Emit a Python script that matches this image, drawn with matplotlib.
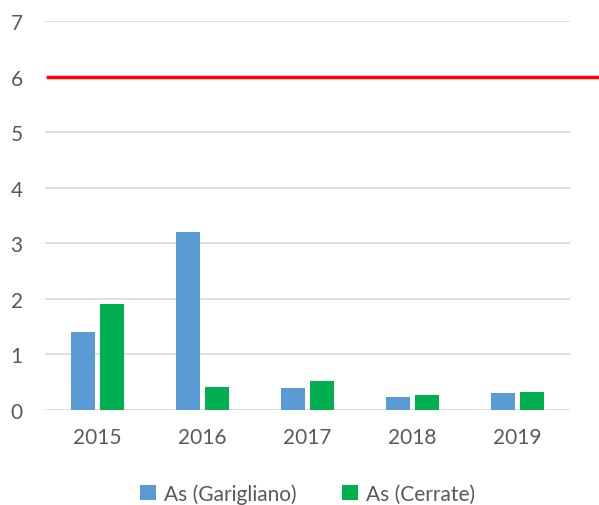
import numpy as np
import matplotlib
matplotlib.use('Agg')
import matplotlib.pyplot as plt

years = ['2015', '2016', '2017', '2018', '2019']
as_garigliano = [1.40, 3.20, 0.40, 0.23, 0.30]
as_cerrate = [1.91, 0.42, 0.52, 0.27, 0.32]
limit = 6

plt.rcParams['font.family'] = ['Lato', 'DejaVu Sans']

fig = plt.figure(figsize=(5.99, 5.06), dpi=100)
ax = fig.add_axes([45 / 599, 1 - 411 / 506, 525 / 599, 389 / 506])

x = np.arange(len(years))
w = 0.23
gap = 0.05
ax.bar(x - (w + gap) / 2, as_garigliano, w, color='#5B9BD5', label='As (Garigliano)', zorder=3)
ax.bar(x + (w + gap) / 2, as_cerrate, w, color='#00B050', label='As (Cerrate)', zorder=3)

# limit line runs past the plot area to the image edge
ax.plot([0.006, 1.06], [limit, limit], transform=ax.get_yaxis_transform(),
        color='#FF0000', lw=2.5, clip_on=False, zorder=4)

ax.set_xlim(-0.5, 4.5)
ax.set_ylim(0, 7)
ax.set_yticks(range(8))
ax.set_xticks(x)
ax.set_xticklabels(years)
ax.yaxis.grid(True, color='#D9D9D9', lw=1.2, zorder=0)
for s in ax.spines.values():
    s.set_visible(False)
ax.tick_params(length=0, labelsize=15, labelcolor='#595959')
ax.tick_params(axis='y', pad=16)
ax.tick_params(axis='x', pad=12)

ax.legend(loc='center', bbox_to_anchor=(0.5, -0.215), ncol=2, frameon=False,
          fontsize=15, labelcolor='#595959', handlelength=0.78, handleheight=0.7,
          handletextpad=0.35, columnspacing=2.2)

fig.savefig('out.png', dpi=100)
